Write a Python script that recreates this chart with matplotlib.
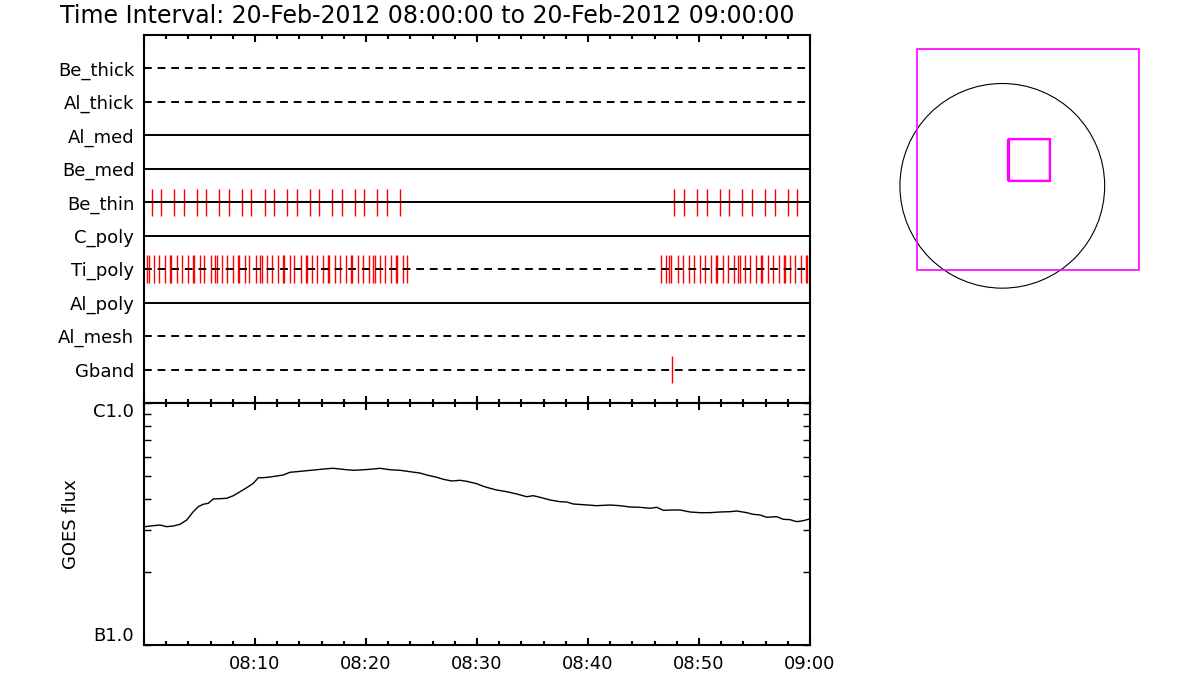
import matplotlib
matplotlib.use("Agg")
import matplotlib.pyplot as plt
from matplotlib.ticker import MultipleLocator, FixedLocator, NullFormatter
from matplotlib.patches import Circle, Rectangle
import numpy as np

# ---------------- data ----------------
title = "Time Interval: 20-Feb-2012 08:00:00 to 20-Feb-2012 09:00:00"

filters = ["Be_thick", "Al_thick", "Al_med", "Be_med", "Be_thin",
           "C_poly", "Ti_poly", "Al_poly", "Al_mesh", "Gband"]
filter_dashed = [True, True, False, False, False, False, True, False, True, True]

# observation times (minutes after 08:00)
be_thin_minutes = [0.75, 1.56, 2.73, 3.63, 4.80, 5.61, 6.78, 7.68, 8.86, 9.67,
                   10.93, 11.74, 12.91, 13.81, 14.98, 15.79, 16.96, 17.86, 19.04,
                   19.85, 21.02, 21.92, 23.09,
                   47.77, 48.68, 49.85, 50.75, 51.92, 52.73, 53.90, 54.80, 55.97,
                   56.87, 58.04, 58.86]

ti_poly_minutes = [0.30, 0.48, 0.93, 1.38, 1.92, 2.37, 2.45, 3.00, 3.45, 4.00,
                   4.44, 4.52, 5.07, 5.43, 6.01, 6.42, 6.60, 7.05, 7.50, 8.05,
                   8.49, 8.57, 9.13, 9.49, 10.12, 10.48, 10.66, 11.11, 11.56, 12.10,
                   12.55, 12.63, 13.18, 13.54, 14.17, 14.62, 14.70, 15.16, 15.61, 16.15,
                   16.60, 16.68, 17.23, 17.68, 18.23, 18.67, 18.75, 19.31, 19.76, 20.30,
                   20.66, 20.84, 21.29, 21.74, 22.28, 22.73, 22.81, 23.36, 23.72,
                   46.60, 47.05, 47.32, 47.50, 48.14, 48.59, 49.13, 49.58, 50.12, 50.57,
                   51.11, 51.55, 51.63, 52.19, 52.64, 53.18, 53.54, 53.67, 54.17, 54.63,
                   55.17, 55.58, 55.66, 56.25, 56.70, 57.24, 57.68, 57.76, 58.22, 58.67,
                   59.21, 59.66, 59.74]

gband_minutes = [47.55]

# GOES flux (units of 1e-7 W/m^2)
goes_minutes = [0.09, 0.84, 1.44, 2.05, 2.64, 3.24, 3.85, 4.44, 4.89, 5.34,
                5.79, 6.24, 6.85, 7.45, 8.05, 8.65, 9.25, 9.85, 10.30, 10.75,
                11.35, 11.95, 12.55, 13.15, 13.76, 14.66, 15.56, 16.46, 17.05, 17.66,
                18.26, 18.86, 19.46, 20.36,
                21.26, 22.16, 23.06, 23.96, 24.86, 25.47, 26.37, 26.96, 27.72, 28.47,
                29.07, 29.97, 30.57, 31.17, 31.77, 32.68, 33.58, 34.48, 35.07, 35.68,
                36.58, 37.48, 38.08, 38.68, 39.58, 40.78,
                41.98, 42.88, 43.78, 44.68, 45.59, 46.19, 46.78, 47.68, 48.29, 49.19,
                50.09, 50.99, 51.89, 52.79, 53.40, 54.30, 54.89, 55.50, 56.10, 57.00,
                57.59, 58.20, 58.80, 59.40, 59.85]
goes_flux_e7 = [3.083, 3.112, 3.132, 3.083, 3.103, 3.153, 3.285, 3.555, 3.729, 3.815,
                3.851, 4.012, 4.024, 4.039, 4.140, 4.300, 4.467, 4.658, 4.913, 4.913,
                4.946, 4.993, 5.041, 5.172, 5.202, 5.252, 5.300, 5.351, 5.372, 5.336,
                5.300, 5.272, 5.287, 5.321,
                5.372, 5.300, 5.272, 5.202, 5.137, 5.041, 4.932, 4.839, 4.761, 4.793,
                4.747, 4.640, 4.527, 4.442, 4.370, 4.300, 4.207, 4.100, 4.140, 4.077,
                3.974, 3.910, 3.899, 3.825, 3.800, 3.764,
                3.789, 3.764, 3.718, 3.707, 3.672, 3.707, 3.603, 3.613, 3.613, 3.545,
                3.522, 3.522, 3.545, 3.555, 3.579, 3.522, 3.468, 3.445, 3.371, 3.390,
                3.307, 3.295, 3.233, 3.264, 3.307]

time_ticks = [0, 10, 20, 30, 40, 50, 60]
time_labels = ["", "08:10", "08:20", "08:30", "08:40", "08:50", "09:00"]
flux_ticks = [1e-7, 1e-6]
flux_labels = ["B1.0", "C1.0"]

# field of view (arcsec)
sun_radius = 960.0
fov_x = [-803, 1279]
fov_y = [-790, 1286]
roi1_x = [41, 441]
roi1_y = [54, 442]
roi2_x = [66, 450]
roi2_y = [45, 436]

# ---------------- figure ----------------
W, H = 1200, 700
fig = plt.figure(figsize=(12, 7), dpi=100)
fig.patch.set_facecolor("white")
FS = 13

def fx(px):
    return px / W

def fy(py):
    return 1 - py / H

left_px, right_px = 144, 810
top_px, mid_px, bot_px = 35, 403, 645

ax_top = fig.add_axes([fx(left_px), fy(mid_px), (right_px - left_px) / W, (mid_px - top_px) / H])
ax_g = fig.add_axes([fx(left_px), fy(bot_px), (right_px - left_px) / W, (bot_px - mid_px) / H])

for ax in (ax_top, ax_g):
    for sp in ax.spines.values():
        sp.set_linewidth(1.5)
    ax.set_xlim(0, 60)
    ax.xaxis.set_major_locator(MultipleLocator(10))
    ax.xaxis.set_minor_locator(MultipleLocator(2))
    ax.tick_params(axis="x", which="major", direction="in", top=True, bottom=True,
                   length=5, width=1.5)
    ax.tick_params(axis="x", which="minor", direction="in", top=True, bottom=True,
                   length=3, width=1.5)

# ---- filter panel ----
rows = np.arange(1, len(filters) + 1)
ax_top.set_ylim(len(filters) + 1, 0)
ax_top.set_yticks(rows)
ax_top.set_yticklabels(filters, fontsize=FS)
ax_top.tick_params(axis="y", length=0, pad=7)
ax_top.tick_params(axis="x", labelbottom=False)

half = 0.41
obs = {"Be_thin": be_thin_minutes, "Ti_poly": ti_poly_minutes, "Gband": gband_minutes}
for name, times in obs.items():
    r = rows[filters.index(name)]
    ax_top.vlines(times, r - half, r + half, color="#FF0000", lw=1.0, zorder=2)

for r, name, dashed in zip(rows, filters, filter_dashed):
    if dashed:
        ax_top.plot([0, 60], [r, r], color="black", lw=1.4, dashes=(4, 3), zorder=3)
    else:
        ax_top.plot([0, 60], [r, r], color="black", lw=1.4, zorder=3)

# ---- GOES panel ----
ax_g.semilogy(goes_minutes, np.array(goes_flux_e7) * 1e-7, color="black", lw=1.0)
ax_g.set_ylim(1e-7, 1e-6)
ax_g.yaxis.set_major_locator(FixedLocator(flux_ticks))
ax_g.set_yticklabels(flux_labels, fontsize=FS)
ax_g.yaxis.set_minor_locator(FixedLocator([k * 1e-7 for k in range(2, 10)]))
ax_g.yaxis.set_minor_formatter(NullFormatter())
ax_g.tick_params(axis="y", which="both", direction="in", left=True, right=True,
                 length=5, width=1.0, pad=7)
ylabs = ax_g.get_yticklabels()
ylabs[0].set_va("bottom")
ylabs[1].set_va("top")
ax_g.set_xticks(time_ticks)
ax_g.set_xticklabels(time_labels, fontsize=FS)
ax_g.tick_params(axis="x", which="major", pad=7)
ax_g.set_ylabel("GOES flux", fontsize=FS)
ax_g.yaxis.set_label_coords((80 - left_px) / (right_px - left_px), 0.5)

# ---- title ----
fig.text(fx(60), fy(16), title, ha="left", va="center", fontsize=17)

# ---- field-of-view panel ----
ax_r = fig.add_axes([fx(890), fy(300), 260 / W, 260 / H])
ax_r.set_xlim(-1053, 1385)
ax_r.set_ylim(-1071, 1368)
ax_r.axis("off")
ax_r.add_patch(Circle((0, 0), sun_radius, fill=False, ec="black", lw=0.8))
ax_r.add_patch(Rectangle((fov_x[0], fov_y[0]), fov_x[1] - fov_x[0], fov_y[1] - fov_y[0],
                         fill=False, ec="#FF00FF", lw=1.2))
ax_r.add_patch(Rectangle((roi1_x[0], roi1_y[0]), roi1_x[1] - roi1_x[0], roi1_y[1] - roi1_y[0],
                         fill=False, ec="#FF00FF", lw=1.0))
ax_r.add_patch(Rectangle((roi2_x[0], roi2_y[0]), roi2_x[1] - roi2_x[0], roi2_y[1] - roi2_y[0],
                         fill=False, ec="#FF00FF", lw=1.6))

fig.savefig("out.png", dpi=100, facecolor="white")
